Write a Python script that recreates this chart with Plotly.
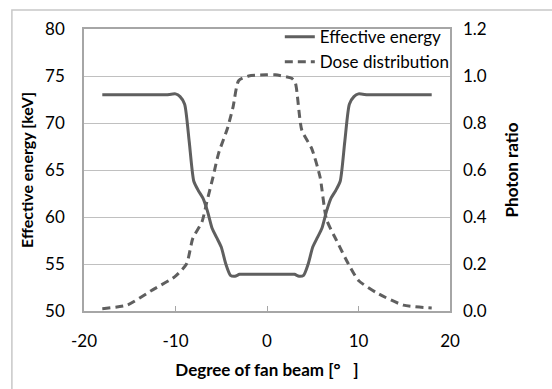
import plotly.graph_objects as go

angle = [-18, -16, -14, -12, -11, -10, -9.5, -9, -8.5, -8, -7.5, -7, -6.5, -6, -5.5, -5, -4.5, -4, -3.5, -3,
         -2, -1, 0, 1, 2, 3, 3.5, 4, 4.5, 5, 5.5, 6, 6.5, 7, 7.5, 8, 8.5, 9, 9.5, 10, 11, 12, 14, 16, 18]
energy = [73, 73, 73, 73, 73, 73.1, 72.8, 72.0, 68.0, 63.8, 62.8, 62.0, 60.6, 58.8, 57.8, 56.8, 55.0, 53.8, 53.7, 53.9,
          53.9, 53.9, 53.9, 53.9, 53.9, 53.9, 53.7, 53.8, 55.0, 56.8, 57.8, 58.8, 60.6, 62.0, 62.8, 63.8, 68.0, 72.0, 72.8, 73.1, 73, 73, 73, 73, 73]

dose_angle = [-18, -15.3, -12.5, -10.1, -8.8, -8.1, -7.1, -6.6, -5.9, -5.3, -4.3, -3.7, -3.1, -2.0, 0, 0.9, 2.7, 3.1,
              3.8, 4.9, 5.8, 6.5, 7.6, 8.9, 10, 12, 14.9, 18]
dose = [0.01, 0.025, 0.09, 0.145, 0.20, 0.31, 0.38, 0.46, 0.57, 0.67, 0.78, 0.87, 0.98, 1.0, 1.005, 1.005, 0.99, 0.97,
        0.77, 0.69, 0.57, 0.39, 0.30, 0.20, 0.13, 0.077, 0.025, 0.013]

x_ticks = [-20, -10, 0, 10, 20]
x_ticktext = ["-20", "-10", "0", "10", "20"]
y_ticks = [50, 55, 60, 65, 70, 75, 80]
y2_ticks = [0.0, 0.2, 0.4, 0.6, 0.8, 1.0, 1.2]

FONT = "Lato"
line_col = "#5f5f5f"
grid_col = "#c0c0c0"
frame_col = "#a6a6a6"

fig = go.Figure()
fig.add_trace(go.Scatter(x=angle, y=energy, mode="lines", name="Effective energy",
                         line=dict(color=line_col, width=3, shape="spline", smoothing=0.6)))
fig.add_trace(go.Scatter(x=dose_angle, y=dose, mode="lines", name="Dose distribution", yaxis="y2",
                         line=dict(color=line_col, width=3, dash="8px,5px", shape="spline", smoothing=0.6)))

fig.update_layout(
    width=552, height=389,
    margin=dict(l=84, r=102, t=29, b=78),
    paper_bgcolor="white", plot_bgcolor="white",
    font=dict(family=FONT, size=17, color="black"),
    showlegend=True,
    legend=dict(x=0.535, y=1.035, xanchor="left", yanchor="top", bgcolor="rgba(0,0,0,0)",
                font=dict(size=17), itemwidth=30, tracegroupgap=0),
    xaxis=dict(range=[-20, 20], tickvals=x_ticks, ticktext=x_ticktext, showgrid=False, zeroline=False,
               showline=True, linecolor=frame_col, linewidth=1.5, mirror=True,
               ticks="inside", ticklen=5, tickcolor=frame_col, ticklabelstandoff=14,
               title=dict(text="<b>Degree of fan beam [°\u2003]</b>", standoff=14, font=dict(size=17))),
    yaxis=dict(range=[50, 80], tickvals=y_ticks, showgrid=True, gridcolor=grid_col, gridwidth=1,
               zeroline=False, showline=True, linecolor=frame_col, linewidth=1.5, mirror=True,
               ticks="", ticklabelstandoff=14,
               title=dict(text="<b>Effective energy [keV]</b>", standoff=8, font=dict(size=16))),
    yaxis2=dict(range=[0, 1.2], tickvals=y2_ticks, tickformat=".1f", overlaying="y", side="right",
                showgrid=False, zeroline=False, showline=False, ticks="", ticklabelstandoff=12,
                title=dict(text="<b>Photon ratio</b>", standoff=20, font=dict(size=17))),
)

fig.add_shape(type="rect", xref="paper", yref="paper", x0=-0.197, x1=1.35, y0=-0.35, y1=1.067,
              line=dict(color="#c8c8c8", width=1.5), fillcolor="rgba(0,0,0,0)", layer="below")

fig.write_html("out.html")
